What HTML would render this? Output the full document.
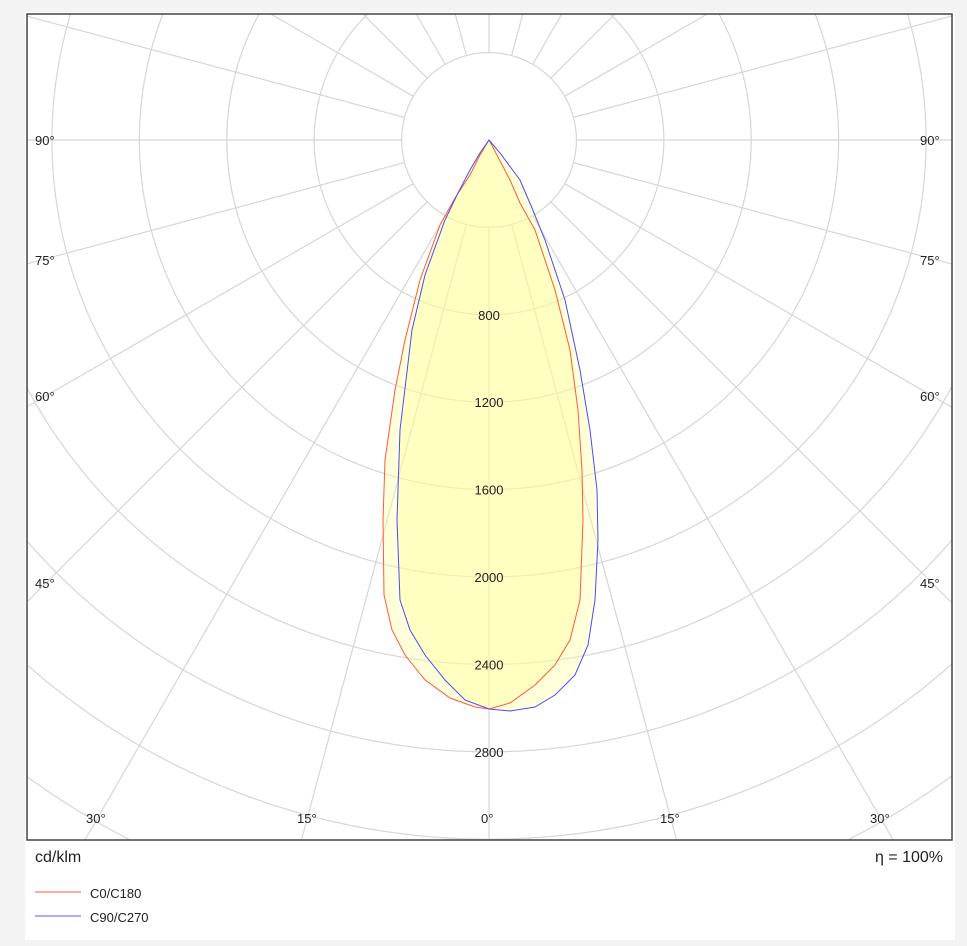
<!DOCTYPE html>
<html style="overflow:hidden;width:967px;height:946px"><head><style>
html,body{margin:0;padding:0}
body{background:#f3f3f3;width:967px;height:946px;overflow:hidden;font-family:"Liberation Sans","DejaVu Sans",sans-serif;position:relative}
svg{display:block}
</style></head><body>
<svg width="967" height="946" xmlns="http://www.w3.org/2000/svg" style="position:absolute;left:0;top:0">
<rect x="0" y="0" width="967" height="946" fill="#f3f3f3"/>
<rect x="25" y="12" width="930" height="928" fill="#fff"/>
<g stroke="#d6d6d6" stroke-width="1.2" fill="none" id="grid"></g>
<g>
<path d="M489,140 L480,155 470,175 455,198 440,225 420,280 405,340 395,390 385,460 383,520 384,595 392,630 405,655 425,680 450,698 475,707 489,709 L510,703 535,685 555,665 570,640 580,600 583,520 582,470 578,410 570,350 555,290 535,230 520,203 510,180 498,157 Z" fill="rgb(255,255,150)" fill-opacity="0.35" stroke="none"/>
<path d="M489,140 L480,153 470,170 457,195 445,220 425,275 412,330 400,430 397,520 400,600 410,630 425,655 445,680 465,700 489,709 L510,711 535,707 555,695 575,675 588,645 595,600 598,540 597,490 590,430 580,370 565,300 545,240 532,208 520,180 500,153 Z" fill="rgb(255,255,150)" fill-opacity="0.35" stroke="none"/>
<g id="lbl" font-size="13" fill="#222" text-anchor="middle"></g>
<path d="M489,140 L480,155 470,175 455,198 440,225 420,280 405,340 395,390 385,460 383,520 384,595 392,630 405,655 425,680 450,698 475,707 489,709 L510,703 535,685 555,665 570,640 580,600 583,520 582,470 578,410 570,350 555,290 535,230 520,203 510,180 498,157 Z" fill="none" stroke="#ff5a3c" stroke-width="1"/>
<path d="M489,140 L480,153 470,170 457,195 445,220 425,275 412,330 400,430 397,520 400,600 410,630 425,655 445,680 465,700 489,709 L510,711 535,707 555,695 575,675 588,645 595,600 598,540 597,490 590,430 580,370 565,300 545,240 532,208 520,180 500,153 Z" fill="none" stroke="#4a4aff" stroke-width="1"/>
</g>
<rect x="27" y="14" width="925" height="826" fill="none" stroke="#444" stroke-width="1.5"/>
<g font-size="13" fill="#222">
<text x="35" y="145">90°</text><text x="920" y="145">90°</text>
<text x="35" y="265">75°</text><text x="920" y="265">75°</text>
<text x="35" y="401">60°</text><text x="920" y="401">60°</text>
<text x="35" y="588">45°</text><text x="920" y="588">45°</text>
<text x="86" y="823">30°</text><text x="297" y="823">15°</text><text x="481" y="823">0°</text><text x="660" y="823">15°</text><text x="870" y="823">30°</text>
</g>
<text x="35" y="862" font-size="16" fill="#222">cd/klm</text>
<text x="943" y="862" font-size="16" fill="#222" text-anchor="end">η = 100%</text>
<line x1="35" y1="892" x2="81" y2="892" stroke="#ff7a60" stroke-width="1.2"/>
<line x1="35" y1="916" x2="81" y2="916" stroke="#7a7aff" stroke-width="1.2"/>
<text x="90" y="898" font-size="13" fill="#222">C0/C180</text>
<text x="90" y="922" font-size="13" fill="#222">C90/C270</text>
</svg>
<script>
var g=document.getElementById('grid'),cx=489,cy=140,s=87.4,ns='http://www.w3.org/2000/svg';
var X0=27,Y0=14,X1=952,Y1=840;
function inside(x,y){return x>=X0&&x<=X1&&y>=Y0&&y<=Y1;}
function add(pts){if(pts.length<2)return;var p=document.createElementNS(ns,'polyline');p.setAttribute('points',pts.map(function(q){return q[0].toFixed(1)+','+q[1].toFixed(1)}).join(' '));g.appendChild(p);}
for(var k=1;k<=14;k++){var r=k*s,seg=[],all=[];
 for(var i=0;i<=1440;i++){var t=i/1440*2*Math.PI,x=cx+r*Math.cos(t),y=cy+r*Math.sin(t);
  if(x<X0)x=X0;if(x>X1)x=X1;if(y<Y0)y=Y0;if(y>Y1)y=Y1;
  var d=Math.hypot(x-cx,y-cy);
  if(Math.abs(d-r)<0.5){seg.push([x,y]);}else{if(seg.length)all.push(seg);seg=[];}}
 if(seg.length)all.push(seg);
 all.forEach(add);}
for(var a=0;a<360;a+=15){var rr=a*Math.PI/180,dx=Math.sin(rr),dy=Math.cos(rr),tm=1e9;
 if(dx>1e-9)tm=Math.min(tm,(X1-cx)/dx);if(dx<-1e-9)tm=Math.min(tm,(X0-cx)/dx);
 if(dy>1e-9)tm=Math.min(tm,(Y1-cy)/dy);if(dy<-1e-9)tm=Math.min(tm,(Y0-cy)/dy);
 if(tm>s){var l=document.createElementNS(ns,'line');
 l.setAttribute('x1',cx+s*dx);l.setAttribute('y1',cy+s*dy);l.setAttribute('x2',cx+tm*dx);l.setAttribute('y2',cy+tm*dy);g.appendChild(l);}}
var lb=document.getElementById('lbl');
[800,1200,1600,2000,2400,2800].forEach(function(v){var t=document.createElementNS(ns,'text');t.setAttribute('x',cx);t.setAttribute('y',cy+v/400*s+5);t.textContent=v;lb.appendChild(t);});
</script>
</body></html>
